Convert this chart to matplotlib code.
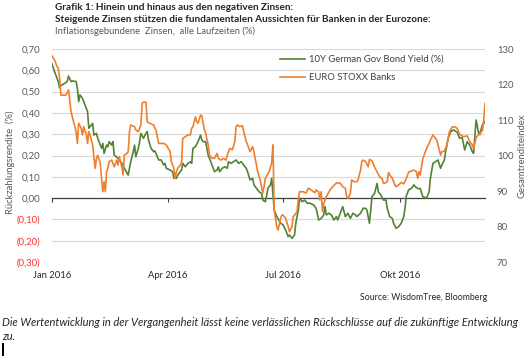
import matplotlib
matplotlib.use("Agg")
import matplotlib.pyplot as plt
import matplotlib.dates as mdates
from matplotlib.lines import Line2D
import pandas as pd

plt.rcParams['font.family'] = ['Lato', 'DejaVu Sans']

# ---------------- data ----------------
bond_dates = ["01-01", "01-03", "01-06", "01-07", "01-08", "01-11", "01-13", "01-14", "01-16", "01-17",
              "01-20", "01-21", "01-22", "01-23", "01-25", "01-27", "01-29", "01-30", "02-01", "02-02",
              "02-03", "02-05", "02-06", "02-08", "02-09", "02-10", "02-11", "02-13", "02-14", "02-15",
              "02-17", "02-18", "02-19", "02-22", "02-25", "02-27", "03-01", "03-02", "03-03", "03-05",
              "03-06", "03-07", "03-09", "03-10", "03-11", "03-13", "03-15", "03-16", "03-17", "03-19",
              "03-21", "03-22", "03-25", "03-27", "03-29", "03-30", "03-31", "04-03", "04-05", "04-06",
              "04-08", "04-09", "04-12", "04-13", "04-15", "04-17", "04-19", "04-20", "04-21", "04-23",
              "04-25", "04-27", "04-28", "04-29", "05-01", "05-03", "05-04", "05-06", "05-08", "05-10",
              "05-11", "05-12", "05-14", "05-16", "05-18", "05-19", "05-21", "05-23", "05-25", "05-27",
              "05-29", "05-31", "06-02", "06-03", "06-05", "06-07", "06-08", "06-10", "06-12", "06-14",
              "06-15", "06-17", "06-18", "06-19", "06-21", "06-22", "06-24", "06-26", "06-29", "07-01",
              "07-03", "07-05", "07-06", "07-08", "07-10", "07-11", "07-13", "07-14", "07-16", "07-18",
              "07-20", "07-22", "07-25", "07-27", "07-29", "07-31", "08-02", "08-03", "08-04", "08-06",
              "08-08", "08-10", "08-12", "08-13", "08-15", "08-17", "08-19", "08-21", "08-23", "08-25",
              "08-27", "08-28", "08-31", "09-02", "09-04", "09-05", "09-07", "09-09", "09-11", "09-13",
              "09-14", "09-16", "09-18", "09-20", "09-21", "09-23", "09-25", "09-26", "09-28", "09-30",
              "10-02", "10-04", "10-05", "10-06", "10-08", "10-10", "10-12", "10-13", "10-15", "10-17",
              "10-19", "10-22", "10-24", "10-25", "10-27", "10-29", "10-30", "10-31", "11-02", "11-03",
              "11-05", "11-06", "11-08", "11-10", "11-12", "11-15", "11-17", "11-19", "11-21", "11-23",
              "11-25", "11-27", "11-28", "11-30", "12-02", "12-03", "12-05", "12-07"]
bond_yield = [0.63, 0.594, 0.546, 0.517, 0.528, 0.539, 0.547, 0.573, 0.547, 0.55,
              0.547, 0.515, 0.453, 0.484, 0.468, 0.437, 0.406, 0.328, 0.343, 0.351,
              0.296, 0.304, 0.281, 0.249, 0.234, 0.257, 0.21, 0.249, 0.241, 0.265,
              0.249, 0.265, 0.202, 0.187, 0.163, 0.14, 0.108, 0.14, 0.171, 0.218,
              0.249, 0.194, 0.234, 0.265, 0.304, 0.281, 0.304, 0.312, 0.273, 0.234,
              0.218, 0.222, 0.179, 0.179, 0.155, 0.163, 0.14, 0.132, 0.124, 0.093,
              0.093, 0.108, 0.132, 0.163, 0.147, 0.163, 0.171, 0.163, 0.234, 0.241,
              0.265, 0.296, 0.273, 0.265, 0.265, 0.202, 0.187, 0.155, 0.124, 0.132,
              0.147, 0.124, 0.14, 0.147, 0.14, 0.171, 0.163, 0.171, 0.179, 0.163,
              0.171, 0.155, 0.14, 0.124, 0.085, 0.093, 0.062, 0.046, 0.03, 0.022,
              -0.009, -0.017, 0.01, 0.046, 0.062, 0.093, -0.056, -0.087, -0.118, -0.126,
              -0.15, -0.181, -0.173, -0.189, -0.173, -0.118, -0.056, 0.0, -0.017, -0.009,
              -0.024, -0.024, -0.032, -0.048, -0.103, -0.095, -0.079, -0.04, -0.079, -0.071,
              -0.079, -0.103, -0.087, -0.103, -0.071, -0.04, -0.087, -0.071, -0.095, -0.071,
              -0.079, -0.087, -0.071, -0.048, -0.048, -0.056, -0.118, 0.007, 0.022, 0.069,
              0.03, 0.015, -0.009, -0.009, -0.048, -0.087, -0.095, -0.118, -0.142, -0.134,
              -0.118, -0.087, -0.048, 0.01, 0.04, 0.045, 0.062, 0.054, 0.045, 0.045,
              0.007, 0.0, 0.03, 0.093, 0.163, 0.171, 0.175, 0.179, 0.14, 0.155,
              0.179, 0.218, 0.281, 0.312, 0.32, 0.31, 0.281, 0.285, 0.226, 0.265,
              0.249, 0.218, 0.21, 0.367, 0.304, 0.304, 0.343, 0.359]

bank_dates = ["01-01", "01-03", "01-05", "01-06", "01-07", "01-08", "01-10", "01-12", "01-14", "01-16",
              "01-18", "01-19", "01-20", "01-21", "01-22", "01-24", "01-25", "01-26", "01-27", "01-28",
              "01-29", "01-30", "01-31", "02-02", "02-03", "02-04", "02-05", "02-06", "02-08", "02-09",
              "02-10", "02-11", "02-12", "02-13", "02-14", "02-15", "02-17", "02-19", "02-21", "02-22",
              "02-23", "02-25", "02-26", "02-27", "02-29", "03-01", "03-02", "03-03", "03-06", "03-07",
              "03-09", "03-11", "03-12", "03-13", "03-15", "03-16", "03-18", "03-21", "03-23", "03-25",
              "03-29", "03-31", "04-03", "04-04", "04-06", "04-07", "04-08", "04-09", "04-11", "04-12",
              "04-13", "04-15", "04-17", "04-19", "04-20", "04-21", "04-23", "04-24", "04-25", "04-27",
              "04-28", "04-30", "05-01", "05-03", "05-04", "05-06", "05-08", "05-10", "05-11", "05-13",
              "05-15", "05-17", "05-18", "05-20", "05-22", "05-24", "05-25", "05-26", "05-28", "05-30",
              "05-31", "06-02", "06-03", "06-05", "06-07", "06-08", "06-10", "06-11", "06-13", "06-14",
              "06-15", "06-16", "06-17", "06-20", "06-22", "06-23", "06-24", "06-26", "06-27", "06-29",
              "06-30", "07-01", "07-03", "07-05", "07-06", "07-08", "07-09", "07-10", "07-12", "07-13",
              "07-14", "07-17", "07-19", "07-21", "07-23", "07-26", "07-27", "07-29", "07-30", "07-31",
              "08-01", "08-02", "08-04", "08-07", "08-09", "08-12", "08-15", "08-17", "08-19", "08-20",
              "08-21", "08-23", "08-24", "08-26", "08-28", "08-29", "08-31", "09-01", "09-02", "09-04",
              "09-06", "09-07", "09-09", "09-11", "09-13", "09-15", "09-17", "09-18", "09-19", "09-21",
              "09-22", "09-23", "09-25", "09-27", "09-28", "09-30", "10-02", "10-04", "10-06", "10-08",
              "10-10", "10-12", "10-14", "10-15", "10-16", "10-17", "10-19", "10-21", "10-22", "10-24",
              "10-25", "10-27", "10-29", "10-30", "10-31", "11-02", "11-03", "11-05", "11-07", "11-09",
              "11-11", "11-13", "11-15", "11-17", "11-20", "11-23", "11-25", "11-27", "11-28", "11-30",
              "12-02", "12-03", "12-04", "12-05", "12-06", "12-07"]
bank_index = [128.1, 126.9, 125.0, 124.6, 121.7, 117.0, 117.0, 117.0, 118.5, 112.3,
              109.5, 108.1, 106.7, 103.4, 109.1, 107.7, 105.8, 108.1, 106.7, 106.3,
              103.4, 106.7, 105.8, 103.0, 99.7, 96.4, 99.2, 100.1, 97.8, 93.6,
              89.8, 92.6, 89.8, 95.4, 96.4, 98.3, 98.7, 96.8, 98.7, 97.3,
              99.7, 96.8, 94.5, 100.1, 100.6, 101.1, 106.7, 108.6, 108.1, 107.2,
              106.7, 108.6, 114.7, 115.0, 115.0, 109.5, 109.1, 108.6, 107.0, 103.4,
              103.4, 103.0, 101.1, 98.3, 96.4, 93.6, 95.4, 96.4, 97.3, 97.8,
              104.8, 105.3, 105.8, 105.8, 107.7, 108.1, 110.9, 109.5, 109.1, 111.4,
              111.2, 107.2, 106.3, 103.0, 100.1, 99.2, 99.2, 100.6, 99.2, 98.7,
              99.2, 98.7, 100.1, 102.0, 101.6, 103.9, 108.1, 108.6, 108.1, 108.4,
              106.7, 103.9, 103.0, 101.1, 102.5, 101.1, 97.3, 95.4, 93.1, 91.2,
              89.4, 91.2, 93.6, 95.4, 98.0, 103.0, 84.6, 80.0, 79.0, 82.3,
              83.2, 83.2, 82.3, 80.0, 78.5, 80.0, 82.8, 83.2, 84.2, 87.9,
              89.8, 89.8, 89.4, 90.8, 90.3, 89.5, 90.3, 89.8, 87.5, 89.8,
              84.2, 86.5, 88.4, 90.3, 91.2, 92.3, 92.2, 91.2, 90.8, 88.4,
              87.9, 89.4, 93.1, 92.6, 92.6, 93.1, 95.9, 98.3, 98.7, 98.3,
              96.8, 98.9, 98.5, 96.8, 95.4, 94.0, 93.5, 92.2, 92.2, 92.6,
              95.2, 94.5, 93.6, 91.7, 91.2, 91.7, 92.4, 92.0, 93.5, 95.4,
              95.6, 95.9, 95.4, 93.6, 95.4, 94.5, 99.0, 101.1, 102.0, 103.4,
              104.4, 105.8, 104.8, 104.4, 103.0, 100.1, 101.1, 101.2, 103.0, 106.7,
              108.0, 108.1, 107.7, 106.0, 105.3, 105.5, 103.9, 103.0, 102.0, 105.0,
              106.0, 105.8, 106.7, 107.0, 110.0, 114.7]

bond_label = "10Y German Gov Bond Yield (%)"
bank_label = "EURO STOXX Banks"
left_ticks = [0.7, 0.6, 0.5, 0.4, 0.3, 0.2, 0.1, 0.0, -0.1, -0.2, -0.3]
right_ticks = [70, 80, 90, 100, 110, 120, 130]
x_tick_dates = ["2016-01-01", "2016-04-01", "2016-07-01", "2016-10-01"]
x_tick_labels = ["Jan 2016", "Apr 2016", "Jul 2016", "Okt 2016"]
x_start, x_end = "2016-01-01", "2016-12-07"

# ---------------- styling ----------------
GREEN = "#548235"
ORANGE = "#F07F2E"
GRID = "#D9D9D9"
TXT = "#595959"
RED = "#FF2B2B"
FS = 6.8

W, H = 530, 356
fig = plt.figure(figsize=(W / 100, H / 100), dpi=100)
ax = fig.add_axes([52 / W, 1 - 262 / H, 433 / W, 213 / H])
ax2 = ax.twinx()

bd = pd.to_datetime(["2016-" + d for d in bond_dates])
kd = pd.to_datetime(["2016-" + d for d in bank_dates])

ax.plot(bd, bond_yield, color=GREEN, lw=1.2, zorder=3)
ax2.plot(kd, bank_index, color=ORANGE, lw=1.2, zorder=2)

ax.set_xlim(pd.Timestamp(x_start), pd.Timestamp(x_end))
ax.set_ylim(-0.3, 0.7)
ax2.set_ylim(70, 130)

# left axis
ax.set_yticks(left_ticks)
def fmt(v):
    s = f"{abs(v):.2f}".replace(".", ",")
    return f"({s})" if v < -1e-9 else s
ax.set_yticklabels([fmt(v) for v in left_ticks])
for lab, v in zip(ax.get_yticklabels(), left_ticks):
    lab.set_color(RED if v < -1e-9 else TXT)
ax.tick_params(axis="y", length=0, pad=8.5, labelsize=FS)
ax.yaxis.grid(True, color=GRID, lw=0.8)
ax.set_axisbelow(True)

# x axis: spine on zero line, labels below plot
for s in ["top", "left", "right"]:
    ax.spines[s].set_visible(False)
    ax2.spines[s].set_visible(False)
ax2.spines["bottom"].set_visible(False)
ax.spines["bottom"].set_position(("data", 0))
ax.spines["bottom"].set_color("#404040")
ax.spines["bottom"].set_linewidth(0.9)
ax.set_xticks(pd.to_datetime(x_tick_dates))
ax.set_xticklabels(x_tick_labels)
ax.tick_params(axis="x", direction="out", length=3, width=0.8, color="#404040",
               pad=49.5, labelsize=FS, labelcolor="#262626")

# right axis
ax2.set_yticks(right_ticks)
ax2.set_yticklabels([str(v) for v in right_ticks])
ax2.tick_params(axis="y", length=0, pad=8.5, labelsize=FS, labelcolor=TXT)

# axis titles
fig.text(10 / W, 1 - 162 / H, "Rückzahlungsrendite  (%)", rotation=90, ha="center", va="center",
         fontsize=FS, color=TXT)
fig.text(522 / W, 1 - 156 / H, "Gesamtrenditeindex", rotation=90, ha="center", va="center",
         fontsize=FS, color=TXT)

# legend
handles = [Line2D([], [], color=GREEN, lw=1.2), Line2D([], [], color=ORANGE, lw=1.2)]
fig.legend(handles, [bond_label, bank_label], loc="upper left",
           bbox_to_anchor=(280 / W, 1 - 55 / H), frameon=False, fontsize=FS,
           handlelength=2.6, handletextpad=0.45, labelspacing=1.0,
           borderpad=0, borderaxespad=0, labelcolor="#404040")

# titles
fig.text(55 / W, 1 - 7 / H, "Grafik 1: Hinein und hinaus aus den negativen Zinsen:",
         fontsize=7.2, fontweight="bold", color="#262626", va="center")
fig.text(55 / W, 1 - 19 / H, "Steigende Zinsen stützen die fundamentalen Aussichten für Banken in der Eurozone:",
         fontsize=7.2, fontweight="bold", color="#262626", va="center")
fig.text(55 / W, 1 - 31.5 / H, "Inflationsgebundene  Zinsen,  alle Laufzeiten (%)",
         fontsize=6.8, color=TXT, va="center")

# source and disclaimer
fig.text(487 / W, 1 - 298 / H, "Source: WisdomTree, Bloomberg", fontsize=6.3, color="#262626",
         ha="right", va="center")
fig.text(2 / W, 1 - 322 / H,
         "Die Wertentwicklung in der Vergangenheit lässt keine verlässlichen Rückschlüsse auf die zukünftige Entwicklung",
         fontsize=8.0, style="italic", color="#262626", va="center")
fig.text(2 / W, 1 - 336 / H, "zu.", fontsize=8.0, style="italic", color="#262626", va="center")
fig.add_artist(plt.Rectangle((2 / W, 0), 2 / W, 13 / H, transform=fig.transFigure,
                             color="black", lw=0))

fig.savefig("out.png", dpi=100)
